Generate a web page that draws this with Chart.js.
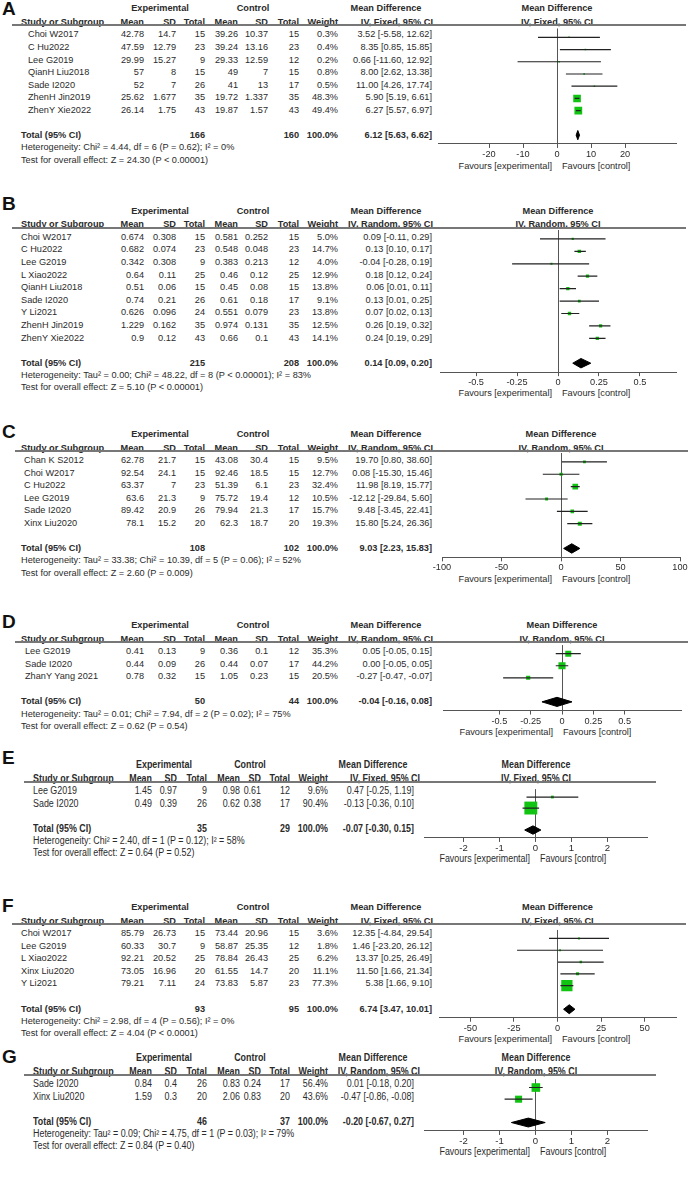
<!DOCTYPE html>
<html>
<head>
<meta charset="utf-8">
<script src="https://cdn.jsdelivr.net/npm/chart.js@4.4.1/dist/chart.umd.min.js"></script>
<style>
html, body { margin: 0; padding: 0; background: #fff; }
#page { position: relative; width: 692px; height: 1181px; overflow: hidden;
        font-family: "Liberation Sans", Arial, sans-serif; color: #2b2b2b; }
.t { position: absolute; white-space: nowrap; font-size: 9.2px; line-height: 12px; height: 12px; }
.narrow .t { font-size: 10px; transform: scaleX(0.89); }
.b { font-weight: bold; }
.lbl { position: absolute; font-weight: bold; font-size: 19px; line-height: 20px; color: #111; }
.hl { position: absolute; height: 2px; background: #777; }
canvas { position: absolute; }
</style>
</head>
<body>
<div id="page"></div>
<script>
// ---------- data ----------

// A: IV, Fixed
const methodA = 'Fixed';
const studiesA = ['Choi W2017', 'C Hu2022', 'Lee G2019', 'QianH Liu2018', 'Sade I2020', 'ZhenH Jin2019', 'ZhenY Xie2022'];
const expA = [[42.78, 14.7, 15], [47.59, 12.79, 23], [29.99, 15.27, 9], [57, 8, 15], [52, 7, 26], [25.62, 1.677, 35], [26.14, 1.75, 43]];
const ctlA = [[39.26, 10.37, 15], [39.24, 13.16, 23], [29.33, 12.59, 12], [49, 7, 15], [41, 13, 17], [19.72, 1.337, 35], [19.87, 1.57, 43]];
const weightA = [0.3, 0.4, 0.2, 0.8, 0.5, 48.3, 49.4];
const mdA = [3.52, 8.35, 0.66, 8.00, 11.00, 5.90, 6.27];
const lowA = [-5.58, 0.85, -11.60, 2.62, 4.26, 5.19, 5.57];
const highA = [12.62, 15.85, 12.92, 13.38, 17.74, 6.61, 6.97];
const totalA = [166, 160, 6.12, 5.63, 6.62];
const hetA = 'Heterogeneity: Chi² = 4.44, df = 6 (P = 0.62); I² = 0%';
const testA = 'Test for overall effect: Z = 24.30 (P < 0.00001)';
const ticksA = [-20, -10, 0, 10, 20];

// B: IV, Random
const methodB = 'Random';
const studiesB = ['Choi W2017', 'C Hu2022', 'Lee G2019', 'L Xiao2022', 'QianH Liu2018', 'Sade I2020', 'Y Li2021', 'ZhenH Jin2019', 'ZhenY Xie2022'];
const expB = [[0.674, 0.308, 15], [0.682, 0.074, 23], [0.342, 0.308, 9], [0.64, 0.11, 25], [0.51, 0.06, 15], [0.74, 0.21, 26], [0.626, 0.096, 24], [1.229, 0.162, 35], [0.9, 0.12, 43]];
const ctlB = [[0.581, 0.252, 15], [0.548, 0.048, 23], [0.383, 0.213, 12], [0.46, 0.12, 25], [0.45, 0.08, 15], [0.61, 0.18, 17], [0.551, 0.079, 23], [0.974, 0.131, 35], [0.66, 0.1, 43]];
const weightB = [5.0, 14.7, 4.0, 12.9, 13.8, 9.1, 13.8, 12.5, 14.1];
const mdB = [0.09, 0.13, -0.04, 0.18, 0.06, 0.13, 0.07, 0.26, 0.24];
const lowB = [-0.11, 0.10, -0.28, 0.12, 0.01, 0.01, 0.02, 0.19, 0.19];
const highB = [0.29, 0.17, 0.19, 0.24, 0.11, 0.25, 0.13, 0.32, 0.29];
const totalB = [215, 208, 0.14, 0.09, 0.20];
const hetB = 'Heterogeneity: Tau² = 0.00; Chi² = 48.22, df = 8 (P < 0.00001); I² = 83%';
const testB = 'Test for overall effect: Z = 5.10 (P < 0.00001)';
const ticksB = [-0.5, -0.25, 0, 0.25, 0.5];

// C: IV, Random
const methodC = 'Random';
const studiesC = ['Chan K S2012', 'Choi W2017', 'C Hu2022', 'Lee G2019', 'Sade I2020', 'Xinx Liu2020'];
const expC = [[62.78, 21.7, 15], [92.54, 24.1, 15], [63.37, 7, 23], [63.6, 21.3, 9], [89.42, 20.9, 26], [78.1, 15.2, 20]];
const ctlC = [[43.08, 30.4, 15], [92.46, 18.5, 15], [51.39, 6.1, 23], [75.72, 19.4, 12], [79.94, 21.3, 17], [62.3, 18.7, 20]];
const weightC = [9.5, 12.7, 32.4, 10.5, 15.7, 19.3];
const mdC = [19.70, 0.08, 11.98, -12.12, 9.48, 15.80];
const lowC = [0.80, -15.30, 8.19, -29.84, -3.45, 5.24];
const highC = [38.60, 15.46, 15.77, 5.60, 22.41, 26.36];
const totalC = [108, 102, 9.03, 2.23, 15.83];
const hetC = 'Heterogeneity: Tau² = 33.38; Chi² = 10.39, df = 5 (P = 0.06); I² = 52%';
const testC = 'Test for overall effect: Z = 2.60 (P = 0.009)';
const ticksC = [-100, -50, 0, 50, 100];

// D: IV, Random
const methodD = 'Random';
const studiesD = ['Lee G2019', 'Sade I2020', 'ZhanY Yang 2021'];
const expD = [[0.41, 0.13, 9], [0.44, 0.09, 26], [0.78, 0.32, 15]];
const ctlD = [[0.36, 0.1, 12], [0.44, 0.07, 17], [1.05, 0.23, 15]];
const weightD = [35.3, 44.2, 20.5];
const mdD = [0.05, 0.00, -0.27];
const lowD = [-0.05, -0.05, -0.47];
const highD = [0.15, 0.05, -0.07];
const totalD = [50, 44, -0.04, -0.16, 0.08];
const hetD = 'Heterogeneity: Tau² = 0.01; Chi² = 7.94, df = 2 (P = 0.02); I² = 75%';
const testD = 'Test for overall effect: Z = 0.62 (P = 0.54)';
const ticksD = [-0.5, -0.25, 0, 0.25, 0.5];

// E: IV, Fixed
const methodE = 'Fixed';
const studiesE = ['Lee G2019', 'Sade I2020'];
const expE = [[1.45, 0.97, 9], [0.49, 0.39, 26]];
const ctlE = [[0.98, 0.61, 12], [0.62, 0.38, 17]];
const weightE = [9.6, 90.4];
const mdE = [0.47, -0.13];
const lowE = [-0.25, -0.36];
const highE = [1.19, 0.10];
const totalE = [35, 29, -0.07, -0.30, 0.15];
const hetE = 'Heterogeneity: Chi² = 2.40, df = 1 (P = 0.12); I² = 58%';
const testE = 'Test for overall effect: Z = 0.64 (P = 0.52)';
const ticksE = [-2, -1, 0, 1, 2];

// F: IV, Fixed
const methodF = 'Fixed';
const studiesF = ['Choi W2017', 'Lee G2019', 'L Xiao2022', 'Xinx Liu2020', 'Y Li2021'];
const expF = [[85.79, 26.73, 15], [60.33, 30.7, 9], [92.21, 20.52, 25], [73.05, 16.96, 20], [79.21, 7.11, 24]];
const ctlF = [[73.44, 20.96, 15], [58.87, 25.35, 12], [78.84, 26.43, 25], [61.55, 14.7, 20], [73.83, 5.87, 23]];
const weightF = [3.6, 1.8, 6.2, 11.1, 77.3];
const mdF = [12.35, 1.46, 13.37, 11.50, 5.38];
const lowF = [-4.84, -23.20, 0.25, 1.66, 1.66];
const highF = [29.54, 26.12, 26.49, 21.34, 9.10];
const totalF = [93, 95, 6.74, 3.47, 10.01];
const hetF = 'Heterogeneity: Chi² = 2.98, df = 4 (P = 0.56); I² = 0%';
const testF = 'Test for overall effect: Z = 4.04 (P < 0.0001)';
const ticksF = [-50, -25, 0, 25, 50];

// G: IV, Random
const methodG = 'Random';
const studiesG = ['Sade I2020', 'Xinx Liu2020'];
const expG = [[0.84, 0.4, 26], [1.59, 0.3, 20]];
const ctlG = [[0.83, 0.24, 17], [2.06, 0.83, 20]];
const weightG = [56.4, 43.6];
const mdG = [0.01, -0.47];
const lowG = [-0.18, -0.86];
const highG = [0.20, -0.08];
const totalG = [46, 37, -0.20, -0.67, 0.27];
const hetG = 'Heterogeneity: Tau² = 0.09; Chi² = 4.75, df = 1 (P = 0.03); I² = 79%';
const testG = 'Test for overall effect: Z = 0.84 (P = 0.40)';
const ticksG = [-2, -1, 0, 1, 2];

// ---------- layout (pixels) ----------
const ROW = 12.6;
const GREEN = '#12c412';
const INK = '#2b2b2b';

const colStd = { hdr: 21, meanE: 144, sdE: 176, nE: 205, meanC: 238, sdC: 268, nC: 299, w: 338, ci: 432, ciHdr: 433, expC: 160, ctlC: 253, mdC: 386 };
const colNarrow = { hdr: 33, meanE: 152, sdE: 177, nE: 207, meanC: 240, sdC: 261, nC: 290, w: 328, ci: 414, ciHdr: 420, expC: 164, ctlC: 250, mdC: 373 };

const geom = {
  A: { T: 34.3, letterY: 8.5, nameX: 28, axisL: 438, axisR: 676, xMin: -35, xMax: 35, gap: 557, line: [12, 686] },
  B: { T: 236.7, letterY: 203.5, nameX: 21, axisL: 440, axisR: 676, xMin: -0.72, xMax: 0.72, gap: 557, line: [12, 686] },
  C: { T: 460, letterY: 432, nameX: 24, axisL: 442, axisR: 680, xMin: -100, xMax: 100, gap: 557, line: [15, 688] },
  D: { T: 651, letterY: 622, nameX: 25, axisL: 443, axisR: 681, xMin: -0.95, xMax: 0.95, gap: 558, line: [15, 688] },
  E: { T: 791, letterY: 758, nameX: 33, narrow: true, axisL: 424, axisR: 647, xMin: -3.1, xMax: 3.1, gap: 535, line: [24, 656] },
  F: { T: 933, letterY: 906, nameX: 21, axisL: 439, axisR: 676, xMin: -68, xMax: 68, gap: 557, line: [12, 686] },
  G: { T: 1084, letterY: 1057, nameX: 33, narrow: true, axisL: 424, axisR: 647, xMin: -3.1, xMax: 3.1, gap: 535, line: [24, 656] }
};

const panels = [
  { key: 'A', method: methodA, studies: studiesA, exp: expA, ctl: ctlA, weight: weightA, md: mdA, low: lowA, high: highA, total: totalA, het: hetA, test: testA, ticks: ticksA },
  { key: 'B', method: methodB, studies: studiesB, exp: expB, ctl: ctlB, weight: weightB, md: mdB, low: lowB, high: highB, total: totalB, het: hetB, test: testB, ticks: ticksB },
  { key: 'C', method: methodC, studies: studiesC, exp: expC, ctl: ctlC, weight: weightC, md: mdC, low: lowC, high: highC, total: totalC, het: hetC, test: testC, ticks: ticksC },
  { key: 'D', method: methodD, studies: studiesD, exp: expD, ctl: ctlD, weight: weightD, md: mdD, low: lowD, high: highD, total: totalD, het: hetD, test: testD, ticks: ticksD },
  { key: 'E', method: methodE, studies: studiesE, exp: expE, ctl: ctlE, weight: weightE, md: mdE, low: lowE, high: highE, total: totalE, het: hetE, test: testE, ticks: ticksE },
  { key: 'F', method: methodF, studies: studiesF, exp: expF, ctl: ctlF, weight: weightF, md: mdF, low: lowF, high: highF, total: totalF, het: hetF, test: testF, ticks: ticksF },
  { key: 'G', method: methodG, studies: studiesG, exp: expG, ctl: ctlG, weight: weightG, md: mdG, low: lowG, high: highG, total: totalG, het: hetG, test: testG, ticks: ticksG }
];

// ---------- helpers ----------
const page = document.getElementById('page');

function txt(parent, s, x, y, align, bold) {
  const d = document.createElement('div');
  d.className = 't' + (bold ? ' b' : '');
  d.textContent = s;
  const W = 320;
  if (align === 'r') {
    d.style.left = (x - W) + 'px'; d.style.width = W + 'px'; d.style.textAlign = 'right';
    d.style.transformOrigin = 'right center';
  } else if (align === 'c') {
    d.style.left = (x - W / 2) + 'px'; d.style.width = W + 'px'; d.style.textAlign = 'center';
  } else {
    d.style.left = x + 'px';
    d.style.transformOrigin = 'left center';
  }
  d.style.top = (y - 6) + 'px';
  parent.appendChild(d);
}

const ci = (m, l, h) => `${m.toFixed(2)} [${l.toFixed(2)}, ${h.toFixed(2)}]`;

function drawTable(box, P, g, col) {
  const T = g.T;
  const iv = `IV, ${P.method}, 95% CI`;

  const lbl = document.createElement('div');
  lbl.className = 'lbl';
  lbl.textContent = P.key;
  lbl.style.left = '2px';
  lbl.style.top = (g.letterY - 10) + 'px';
  box.appendChild(lbl);

  // header rows
  const h1 = T - 26, h2 = T - 12.5;
  txt(box, 'Experimental', col.expC, h1, 'c', true);
  txt(box, 'Control', col.ctlC, h1, 'c', true);
  txt(box, 'Mean Difference', col.mdC, h1, 'c', true);
  txt(box, 'Study or Subgroup', col.hdr, h2, 'l', true);
  txt(box, 'Mean', col.meanE, h2, 'r', true);
  txt(box, 'SD', col.sdE, h2, 'r', true);
  txt(box, 'Total', col.nE, h2, 'r', true);
  txt(box, 'Mean', col.meanC, h2, 'r', true);
  txt(box, 'SD', col.sdC, h2, 'r', true);
  txt(box, 'Total', col.nC, h2, 'r', true);
  txt(box, 'Weight', col.w, h2, 'r', true);
  txt(box, iv, col.ciHdr, h2, 'r', true);

  const zero = g.axisL + (0 - g.xMin) / (g.xMax - g.xMin) * (g.axisR - g.axisL);
  txt(box, 'Mean Difference', zero, h1, 'c', true);
  txt(box, iv, zero, h2, 'c', true);

  const hl = document.createElement('div');
  hl.className = 'hl';
  hl.style.left = g.line[0] + 'px';
  hl.style.width = (g.line[1] - g.line[0]) + 'px';
  hl.style.top = (T - 10) + 'px';
  box.appendChild(hl);

  // study rows
  P.studies.forEach((s, i) => {
    const y = T + i * ROW;
    txt(box, s, g.nameX, y, 'l');
    txt(box, String(P.exp[i][0]), col.meanE, y, 'r');
    txt(box, String(P.exp[i][1]), col.sdE, y, 'r');
    txt(box, String(P.exp[i][2]), col.nE, y, 'r');
    txt(box, String(P.ctl[i][0]), col.meanC, y, 'r');
    txt(box, String(P.ctl[i][1]), col.sdC, y, 'r');
    txt(box, String(P.ctl[i][2]), col.nC, y, 'r');
    txt(box, P.weight[i].toFixed(1) + '%', col.w, y, 'r');
    txt(box, ci(P.md[i], P.low[i], P.high[i]), col.ci, y, 'r');
  });

  // total + footnotes
  const n = P.studies.length;
  const yt = T + (n + 1) * ROW;
  txt(box, 'Total (95% CI)', col.hdr, yt, 'l', true);
  txt(box, String(P.total[0]), col.nE, yt, 'r', true);
  txt(box, String(P.total[1]), col.nC, yt, 'r', true);
  txt(box, '100.0%', col.w, yt, 'r', true);
  txt(box, ci(P.total[2], P.total[3], P.total[4]), col.ci, yt, 'r', true);
  txt(box, P.het, col.hdr, yt + 12.2, 'l');
  txt(box, P.test, col.hdr, yt + 24.4, 'l');

  // favours labels under the axis
  const axisY = T + (n + 1.72) * ROW;
  txt(box, 'Favours [experimental]', g.gap - 5, axisY + 21.5, 'r');
  txt(box, 'Favours [control]', g.gap + 5, axisY + 21.5, 'l');
}

function drawPlot(box, P, g) {
  const n = P.studies.length;
  const totRow = n + 1;
  const yMin = -0.72, yMax = totRow + 0.72;
  const padTop = 2, padSide = 24;
  const fontSize = g.narrow ? 9.6 : 9.2;
  const fam = '"Liberation Sans", Arial, sans-serif';
  const axisBlock = 4 + fontSize * 1.2 + 2;
  const chartH = (yMax - yMin) * ROW;
  const top = g.T + yMin * ROW - padTop;
  const H = Math.ceil(padTop + chartH + axisBlock);
  const padBottom = H - padTop - chartH - axisBlock;

  const cv = document.createElement('canvas');
  cv.width = (g.axisR - g.axisL) + 2 * padSide;
  cv.height = H;
  cv.style.left = (g.axisL - padSide) + 'px';
  cv.style.top = top + 'px';
  box.appendChild(cv);

  // whiskers: one polyline with gaps between studies
  const whiskers = [];
  P.studies.forEach((s, i) => {
    whiskers.push({ x: P.low[i], y: i }, { x: P.high[i], y: i }, { x: null, y: null });
  });
  const boxes = P.md.map((m, i) => ({ x: m, y: i }));
  const radii = P.weight.map(w => (1.6 + 0.125 * w) / Math.SQRT2);
  const h = 0.38;
  const diamond = [
    { x: P.total[3], y: totRow }, { x: P.total[2], y: totRow - h },
    { x: P.total[4], y: totRow }, { x: P.total[2], y: totRow + h },
    { x: P.total[3], y: totRow }
  ];

  new Chart(cv.getContext('2d'), {
    type: 'scatter',
    data: {
      datasets: [
        { data: whiskers, showLine: true, spanGaps: false, borderColor: '#222', borderWidth: 1.2, pointRadius: 0 },
        { data: boxes, pointStyle: 'rect', pointRadius: radii, backgroundColor: GREEN, borderWidth: 0 },
        { data: diamond, showLine: true, fill: 'shape', tension: 0, borderColor: '#000', backgroundColor: '#000', borderWidth: 1, pointRadius: 0 }
      ]
    },
    options: {
      responsive: false,
      animation: false,
      events: [],
      layout: { padding: { top: padTop, left: padSide, right: padSide, bottom: padBottom } },
      plugins: { legend: { display: false }, tooltip: { enabled: false } },
      scales: {
        x: {
          type: 'linear',
          min: g.xMin,
          max: g.xMax,
          afterBuildTicks: s => { s.ticks = P.ticks.map(v => ({ value: v })); },
          ticks: { color: INK, padding: 1, maxRotation: 0, autoSkip: false, font: { size: fontSize, family: fam }, callback: v => String(v) },
          grid: {
            color: c => (c.tick && c.tick.value === 0 ? '#555' : 'rgba(0,0,0,0)'),
            tickColor: '#555', tickLength: 4, lineWidth: 1
          },
          border: { color: '#555', width: 1 }
        },
        y: { type: 'linear', reverse: true, min: yMin, max: yMax, display: false }
      }
    }
  });
}

panels.forEach(P => {
  const g = geom[P.key];
  const box = document.createElement('div');
  if (g.narrow) box.className = 'narrow';
  page.appendChild(box);
  drawTable(box, P, g, g.narrow ? colNarrow : colStd);
  drawPlot(box, P, g);
});
</script>
</body>
</html>
